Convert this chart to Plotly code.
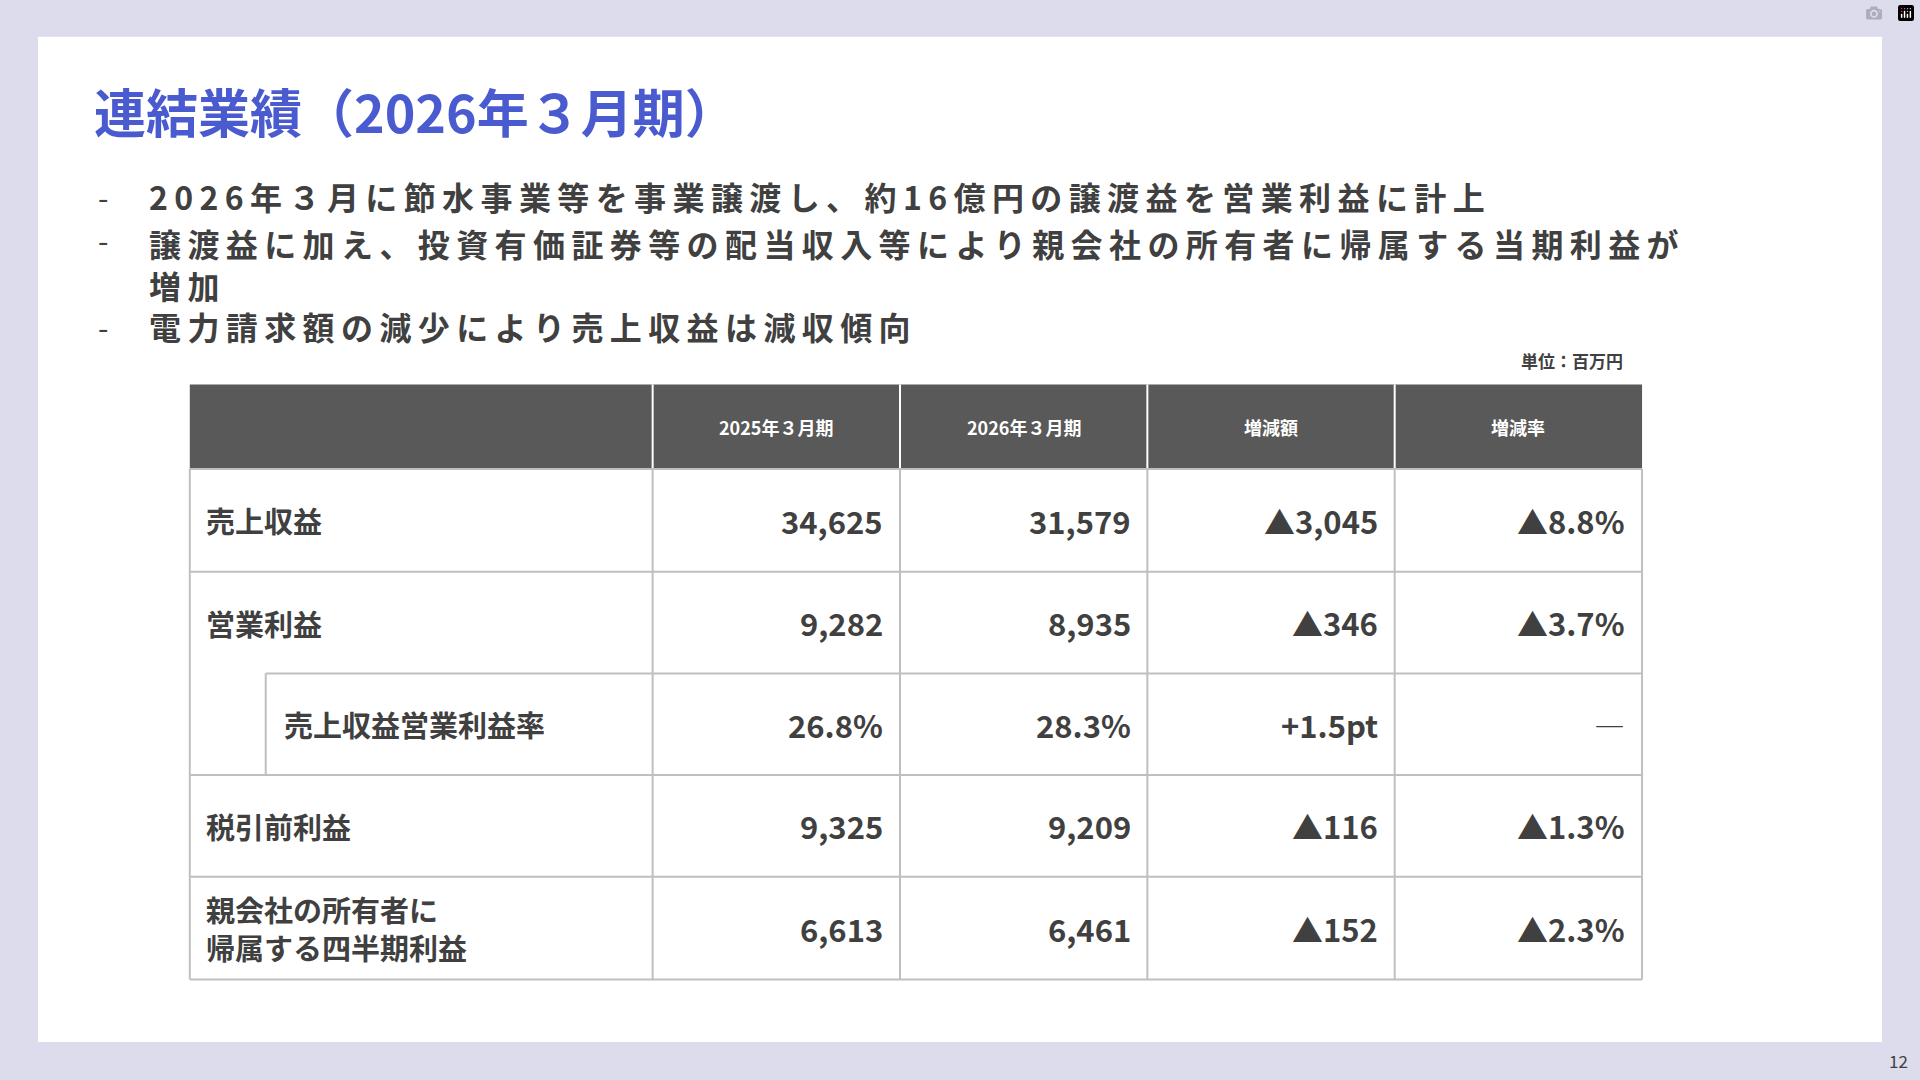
import plotly.graph_objects as go

S = 1920 / 1568  # reference measured in 1568-wide coordinates

title = "連結業績（2026年３月期）"
bullets = [
    "2026年３月に節水事業等を事業譲渡し、約16億円の譲渡益を営業利益に計上",
    "譲渡益に加え、投資有価証券等の配当収入等により親会社の所有者に帰属する当期利益が<br>増加",
    "電力請求額の減少により売上収益は減収傾向",
]
unit = "単位：百万円"
headers = ["", "2025年３月期", "2026年３月期", "増減額", "増減率"]
row_labels = ["売上収益", "営業利益", "売上収益営業利益率", "税引前利益", "親会社の所有者に<br>帰属する四半期利益"]
fy2025 = ["34,625", "9,282", "26.8%", "9,325", "6,613"]
fy2026 = ["31,579", "8,935", "28.3%", "9,209", "6,461"]
change = ["▲3,045", "▲346", "+1.5pt", "▲116", "▲152"]
rate = ["▲8.8%", "▲3.7%", "―", "▲1.3%", "▲2.3%"]
indented = [False, False, True, False, False]

col_x = [155, 533, 735, 937, 1139, 1341]
row_y = [314, 383, 467, 550, 633, 716, 800]
FONT = "Noto Sans CJK JP"

fig = go.Figure()
shapes = []
ann = []

def rect(x0, y0, x1, y1, fill):
    shapes.append(dict(type="rect", x0=x0 * S, y0=y0 * S, x1=x1 * S, y1=y1 * S,
                       fillcolor=fill, line=dict(color=fill, width=0), layer="below"))

def text(x, y, t, size, color, anchor="left", bold=True, yanchor="middle"):
    ann.append(dict(x=x * S, y=y * S, text=f"<b>{t}</b>" if bold else t, showarrow=False,
                    xanchor=anchor, yanchor=yanchor, align="left",
                    font=dict(family=FONT, size=size, color=color)))

def spaced(s):
    # wide letter spacing as in the slide
    parts = s.split("<br>")
    return "<br>".join("\u2009".join(p) for p in parts)

def line(x0, y0, x1, y1, c="#bfbfbf"):
    shapes.append(dict(type="line", x0=x0 * S, y0=y0 * S, x1=x1 * S, y1=y1 * S,
                       line=dict(color=c, width=2)))

rect(0, 0, 1568, 882, "#dcdcec")
rect(31, 30, 1537, 851, "#ffffff")

text(75, 90, title, 52, "#4a5bd0")
for y, b in zip([160, 195, 266], bullets):
    text(78, y, "-", 30, "#404040", bold=False)
    if "<br>" in b:
        text(120, y - 17, spaced(b), 32, "#404040", yanchor="top")
    else:
        text(120, y, spaced(b), 32, "#404040")
text(1327, 294, unit, 17, "#404040", anchor="right")

# header
rect(col_x[0], row_y[0], col_x[-1], row_y[1], "#595959")
for i, h in enumerate(headers):
    if h:
        text((col_x[i] + col_x[i + 1]) / 2, (row_y[0] + row_y[1]) / 2, h, 18, "#ffffff", anchor="center")

for i in range(1, len(col_x) - 1):
    line(col_x[i], row_y[0], col_x[i], row_y[1], "#ffffff")
    line(col_x[i], row_y[1], col_x[i], row_y[-1])
line(col_x[0], row_y[1], col_x[0], row_y[-1])
line(col_x[-1], row_y[1], col_x[-1], row_y[-1])
for j in range(1, len(row_y)):
    x_start = 217 if j == 3 else col_x[0]  # merged cell for indented sub-row
    line(x_start, row_y[j], col_x[-1], row_y[j])
line(217, row_y[3], 217, row_y[4])

for r in range(len(row_labels)):
    yc = (row_y[r + 1] + row_y[r + 2]) / 2
    lx = 230 if indented[r] else 167
    text(lx, yc, row_labels[r], 29, "#404040")
    for c, vals in enumerate([fy2025, fy2026, change, rate]):
        text(col_x[c + 2] - 12, yc, vals[r], 31, "#404040", anchor="right", bold=vals[r] != "―")

text(1560, 866, "12", 17, "#404040", anchor="right", bold=False)

fig.update_layout(
    width=1920, height=1080, margin=dict(l=0, r=0, t=0, b=0),
    paper_bgcolor="#dcdcec", plot_bgcolor="#dcdcec",
    xaxis=dict(range=[0, 1920], visible=False, fixedrange=True),
    yaxis=dict(range=[1080, 0], visible=False, fixedrange=True),
    shapes=shapes, annotations=ann, showlegend=False,
)
fig.write_html("out.html", post_script="document.body.style.margin='0';")
